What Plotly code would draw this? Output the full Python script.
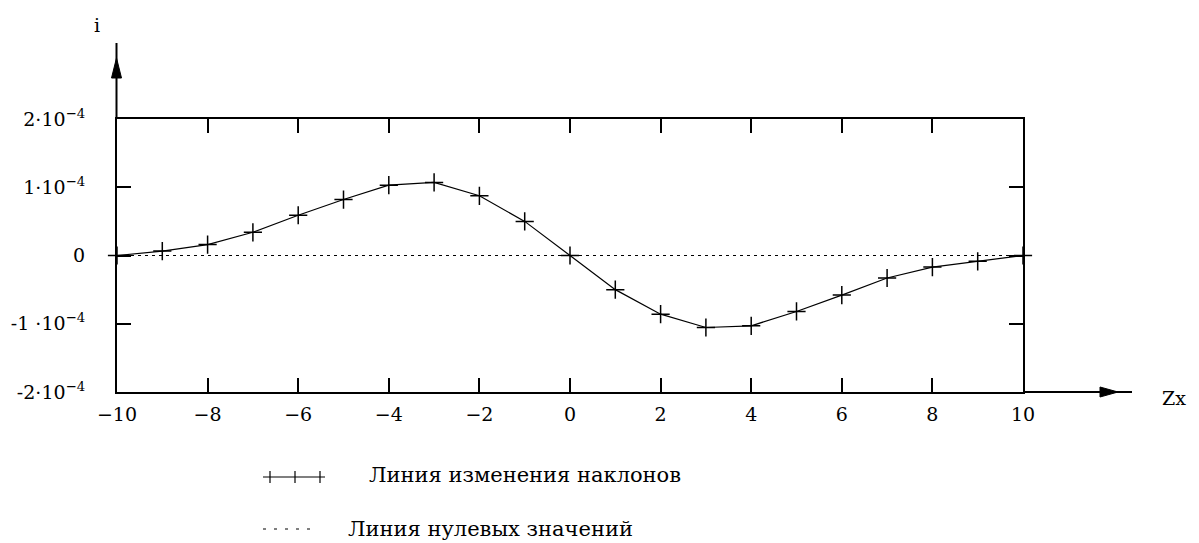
import plotly.graph_objects as go

# Slope of the line along Zx
zx = [-10, -9, -8, -7, -6, -5, -4, -3, -2, -1, 0, 1, 2, 3, 4, 5, 6, 7, 8, 9, 10]
slope_e4 = [0.0, 0.065, 0.16, 0.34, 0.59, 0.82, 1.03, 1.07, 0.875, 0.50, 0.0,
            -0.50, -0.86, -1.055, -1.03, -0.82, -0.58, -0.33, -0.17, -0.085, 0.0]
slope = [v * 1e-4 for v in slope_e4]
zero_line = [0.0 for _ in zx]

x_tickvals = [-10, -8, -6, -4, -2, 0, 2, 4, 6, 8, 10]
x_ticktext = ["\u221210", "\u22128", "\u22126", "\u22124", "\u22122", "0", "2", "4", "6", "8", "10"]
y_tickvals = [2e-4, 1e-4, 0, -1e-4, -2e-4]
y_ticktext = ["2\u00b710<sup>\u22124</sup>", "1\u00b710<sup>\u22124</sup>", "0",
              "-1 \u00b710<sup>\u22124</sup>", "-2\u00b710<sup>\u22124</sup>"]

legend_names = ["Линия изменения наклонов", "Линия нулевых значений"]

W, H = 1199, 543
L, R, T, B = 117, 1023, 119, 392
FONT = "DejaVu Serif, Liberation Serif, serif"
FS = 19
LEG_FS = 21


def px(xp):
    return (xp - L) / (R - L)


def py(yp):
    return (B - yp) / (B - T)


fig = go.Figure()
fig.add_trace(go.Scatter(
    x=zx, y=zero_line, mode="lines",
    line=dict(color="black", width=1.2, dash="3px,4px"),
    showlegend=False, hoverinfo="skip"))
fig.add_trace(go.Scatter(
    x=zx, y=slope, mode="lines+markers",
    line=dict(color="black", width=1.2),
    marker=dict(symbol="cross-thin", size=13, line=dict(color="black", width=1.5)),
    cliponaxis=False, showlegend=False))

shapes = []
# vertical axis arrow
shapes.append(dict(type="line", xref="paper", yref="paper",
                   x0=px(116.5), x1=px(116.5), y0=1, y1=py(43),
                   line=dict(color="black", width=2)))
shapes.append(dict(type="path", xref="paper", yref="paper",
                   path=f"M {px(116.5)},{py(58)} L {px(121.5)},{py(78)} L {px(111.5)},{py(78)} Z",
                   fillcolor="black", line=dict(color="black", width=1)))
# horizontal axis arrow
shapes.append(dict(type="line", xref="paper", yref="paper",
                   x0=1, x1=px(1132), y0=py(392), y1=py(392),
                   line=dict(color="black", width=2)))
shapes.append(dict(type="path", xref="paper", yref="paper",
                   path=f"M {px(1118)},{py(392)} L {px(1100)},{py(387)} L {px(1100)},{py(397)} Z",
                   fillcolor="black", line=dict(color="black", width=1)))

# legend keys
ky1, ky2 = 477, 529
shapes.append(dict(type="line", xref="paper", yref="paper",
                   x0=px(263), x1=px(325), y0=py(ky1), y1=py(ky1),
                   line=dict(color="black", width=1.2)))
for cx in (270, 295, 320):
    shapes.append(dict(type="line", xref="paper", yref="paper",
                       x0=px(cx), x1=px(cx), y0=py(ky1 - 6), y1=py(ky1 + 6),
                       line=dict(color="black", width=1.2)))
shapes.append(dict(type="line", xref="paper", yref="paper",
                   x0=px(263), x1=px(318), y0=py(ky2), y1=py(ky2),
                   line=dict(color="black", width=1.2, dash="3px,8px")))


def label(text, x, y, xanchor="left", size=FS):
    return dict(text=text, x=px(x), y=py(y), xref="paper", yref="paper",
                xanchor=xanchor, yanchor="middle", showarrow=False,
                font=dict(family=FONT, size=size, color="black"))


annotations = [
    label("i", 97, 25, "center"),
    label("Zx", 1160, 398),
    label(legend_names[0], 367, 475, size=LEG_FS),
    label(legend_names[1], 346, 529, size=LEG_FS),
]

fig.update_layout(
    width=W, height=H,
    margin=dict(l=L, r=W - R, t=T, b=H - B, pad=0),
    paper_bgcolor="white", plot_bgcolor="white",
    font=dict(family=FONT, size=FS, color="black"),
    shapes=shapes, annotations=annotations,
    showlegend=False,
    xaxis=dict(range=[-10, 10], tickvals=x_tickvals, ticktext=x_ticktext,
               showgrid=False, zeroline=False, showline=True, linecolor="black",
               linewidth=2, mirror="ticks", ticks="inside", ticklen=14,
               tickwidth=1.5, tickcolor="black", ticklabelstandoff=4),
    yaxis=dict(range=[-2e-4, 2e-4], tickvals=y_tickvals, ticktext=y_ticktext,
               showgrid=False, zeroline=False, showline=True, linecolor="black",
               linewidth=2, mirror="ticks", ticks="inside", ticklen=14,
               tickwidth=1.5, tickcolor="black", ticklabelstandoff=26),
)

fig.write_html("out.html")
